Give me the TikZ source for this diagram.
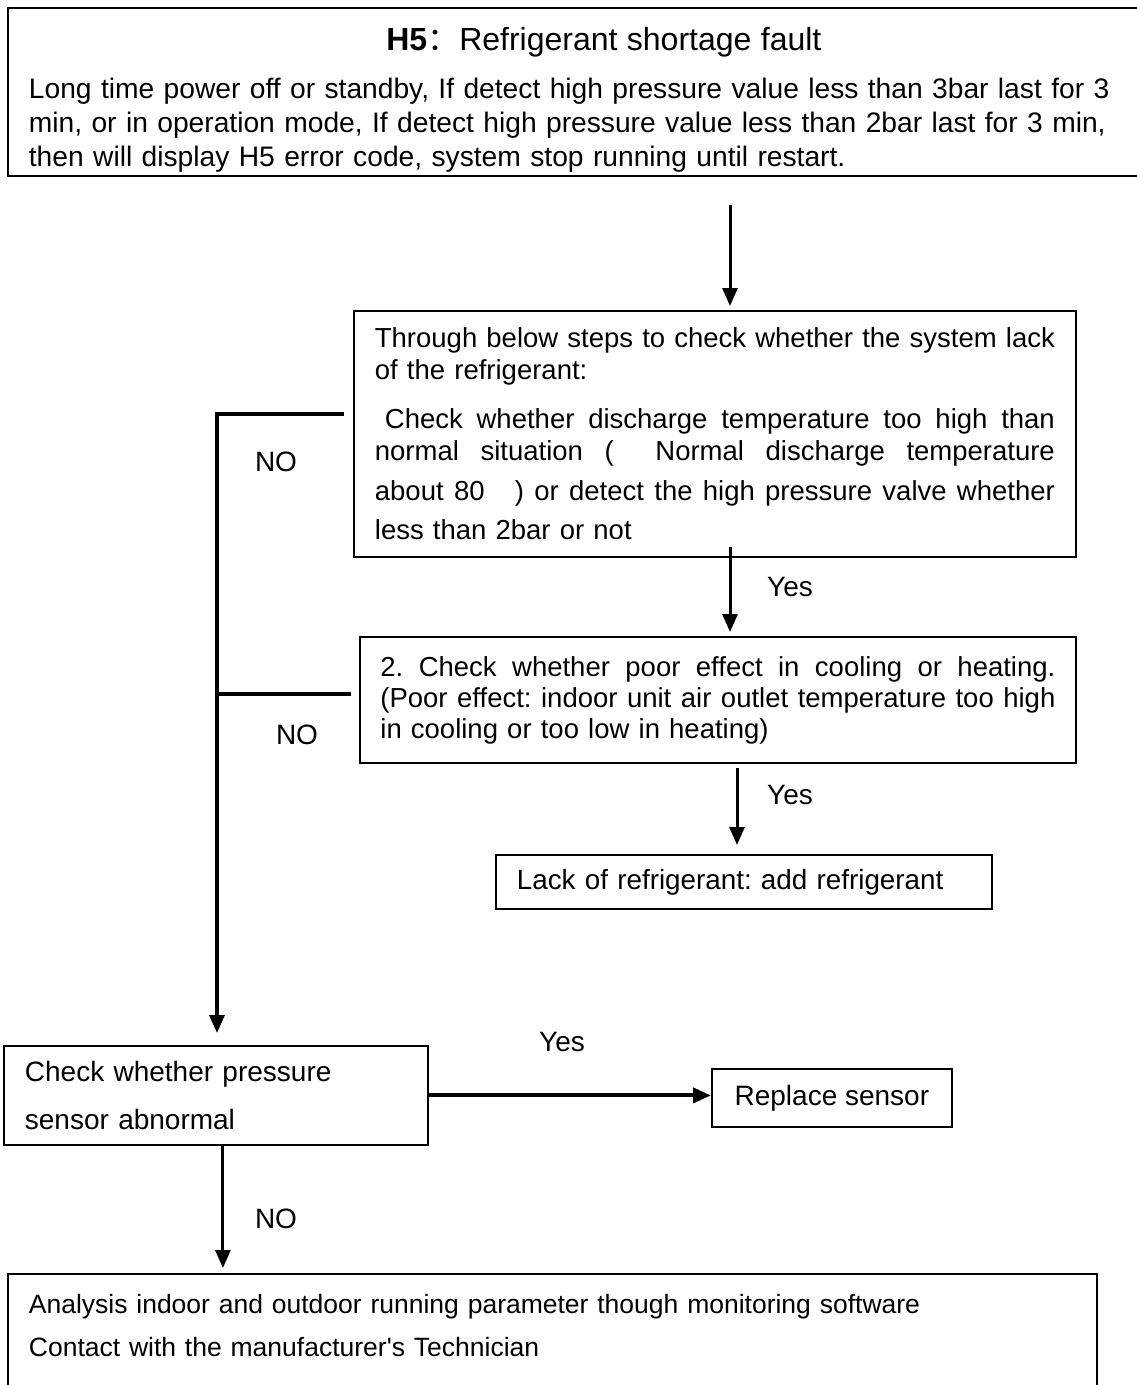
\documentclass[tikz,border=0pt]{standalone}
\usepackage{fontspec}
\setmainfont{Liberation Sans}
\newfontfamily\cjk{Noto Sans CJK SC}
\newfontfamily\plainsans{Liberation Sans}
\usetikzlibrary{positioning,arrows.meta}
\frenchspacing
% justified single line: every word space stretches alike
\newcommand{\jline}[2]{\leavevmode\hbox to #1{\spaceskip=0.28em plus 1fil\xspaceskip=0.28em plus 1fil\relax #2}}

\begin{document}
\begin{tikzpicture}[x=1pt,y=-1pt,
  font=\fontsize{28}{34}\selectfont\frenchspacing,
  box/.style={draw,line width=1.8pt,anchor=north west,inner xsep=21pt,inner ysep=0pt},
  flow/.style={line width=3pt,-{Triangle[length=18pt,width=15pt]}},
  branch/.style={line width=3.5pt},
  lbl/.style={inner sep=0pt}]
\useasboundingbox (0,0) rectangle (1137,1385);
\clip (0,0) rectangle (1137,1385);

\node[box,align=left,text width=1150pt,minimum height=168pt,font=\fontsize{28.2}{34}\selectfont\frenchspacing] (fault) at (7,7) {%
\makebox[1150pt]{\rule{0pt}{39pt}\fontsize{32}{34}\selectfont\textbf{H5}{\cjk ：}Refrigerant shortage fault}\\[14pt]
Long time power off or standby, If detect high pressure value less than 3bar last for 3\\
min, or in operation mode, If detect high pressure value less than 2bar last for 3 min,\\
then will display H5 error code, system stop running until restart.};

\node[box,align=left,text width=680pt,minimum height=246pt,font=\fontsize{27.5}{32}\selectfont\frenchspacing] (lackchk) at (353,310) {%
\jline{680pt}{Through below steps to check whether the system lack}\\
of the refrigerant:\\[17pt]
\jline{680pt}{\hspace*{10pt}Check whether discharge temperature too high than}\\
\jline{680pt}{normal situation (\hspace{20pt} Normal discharge temperature}\\[8pt]
\jline{680pt}{about 80\hspace{20pt} ) or detect the high pressure valve whether}\\[7pt]
less than 2bar or not};

\node[box,align=left,inner xsep=20.5pt,text width=675pt,minimum height=126pt,font=\fontsize{27.5}{31}\selectfont\frenchspacing] (effchk) at (359,636) {%
\jline{675pt}{2. Check whether poor effect in cooling or heating.}\\
\jline{675pt}{(Poor effect: indoor unit air outlet temperature too high}\\
in cooling or too low in heating)};

\node[box,align=left,text width=454pt,minimum height=54pt,font=\fontsize{27.8}{34}\selectfont\frenchspacing] (addref) at (495,854) {Lack of refrigerant: add refrigerant};

\node[box,align=left,text width=382pt,minimum height=99pt,font=\fontsize{28}{48}\selectfont\frenchspacing] (sensorchk) at (3,1045) {%
Check whether pressure\\
sensor abnormal};

\node[box,minimum width=240pt,minimum height=58pt] (replace) at (711,1068) {Replace sensor};

\node[box,align=left,text width=1047pt,minimum height=130pt,font=\fontsize{26.5}{43}\selectfont\frenchspacing] (analysis) at (7,1273) {%
Analysis indoor and outdoor running parameter though monitoring software\\
Contact with the manufacturer{\plainsans '}s Technician\rule[-28pt]{0pt}{0pt}};

\node[lbl] (no1) at (276,462) {NO};
\node[lbl] (no2) at (297,735) {NO};
\node[lbl] (yes1) at (790,587) {Yes};
\node[lbl] (yes2) at (790,795) {Yes};
\node[lbl] (yes3) at (562,1042) {Yes};
\node[lbl] (no3) at (276,1219) {NO};

\coordinate (faultout) at (730,205);
\coordinate (effout) at (737,768);
\coordinate (nojoin1) at (217,414);
\coordinate (nojoin2) at (217,694);
\coordinate (sensorout) at ([xshift=7pt]sensorchk.south);

\draw[flow] (faultout) -- ([yshift=4pt]lackchk.north -| faultout);
\draw[flow] ([yshift=11pt]lackchk.south -| faultout) -- ([yshift=4pt]effchk.north -| faultout);
\draw[flow] (effout) -- ([yshift=9pt]addref.north -| effout);

\draw[flow,line width=3.5pt] ([xshift=-9pt]lackchk.west |- nojoin1) -- (nojoin1) -- ([yshift=12pt]sensorchk.north -| nojoin1);
\draw[branch] ([xshift=-8pt]effchk.west |- nojoin2) -- (nojoin2);

\draw[flow,line width=4pt] (sensorchk.east) -- (replace.west |- sensorchk.east);
\draw[flow] (sensorout) -- ([yshift=5pt]sensorout |- analysis.north);
\end{tikzpicture}
\end{document}
